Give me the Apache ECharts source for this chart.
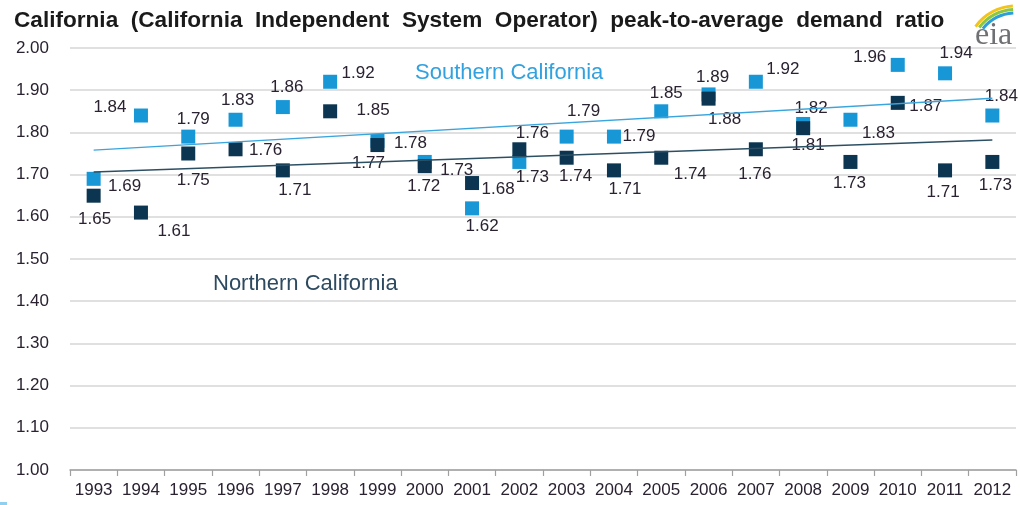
<!DOCTYPE html>
<html><head><meta charset="utf-8">
<script src="https://cdn.jsdelivr.net/npm/echarts@6/dist/echarts.min.js"></script>
<style>html,body{margin:0;padding:0;background:#fff}#c{width:1020px;height:505px}</style>
</head><body><div id="c"></div>
<script>
const years = ['1993','1994','1995','1996','1997','1998','1999','2000','2001','2002','2003','2004','2005','2006','2007','2008','2009','2010','2011','2012'];
const southern = [1.69,1.84,1.79,1.83,1.86,1.92,1.78,1.73,1.62,1.73,1.79,1.79,1.85,1.89,1.92,1.82,1.83,1.96,1.94,1.84];
const northern = [1.65,1.61,1.75,1.76,1.71,1.85,1.77,1.72,1.68,1.76,1.74,1.71,1.74,1.88,1.76,1.81,1.73,1.87,1.71,1.73];
// trend line end values (1993 and 2012)
const southernTrend = [1.758, 1.881];
const northernTrend = [1.706, 1.782];
const yMin = 1.0, yMax = 2.0, yStep = 0.1;

// label placement (offset of label centre from marker centre), presentation only
const southLabelOffset = [[31,7],[-31,-8],[5,-17],[2,-19],[4,-20],[28,-8],[33,2],[32,8],[10,18],[13,15],[17,-25],[25,0],[5,-18],[4,-17],[27,-12],[8,-16],[28,14],[-28,-8],[11,-20],[9,-19]];
const northLabelOffset = [[1,24],[33,19],[5,27],[30,1],[12,20],[43,-1],[-9,18],[-1,20],[26,6],[13,-16],[9,19],[11,19],[29,17],[16,21],[-1,25],[5,17],[-1,21],[28,3],[-2,22],[3,23]];

const FONT = 'Liberation Sans, Arial, sans-serif';
const LIGHT = '#1797d6';
const DARK = '#0b3550';
const TXT = '#2a2230';

function pts(vals, offs) {
  return vals.map((v, i) => ({
    value: v,
    label: { position: 'inside', offset: offs[i] }
  }));
}

const chart = echarts.init(document.getElementById('c'), null, {renderer: 'canvas'});
chart.setOption({
  animation: false,
  title: {
    text: 'California  (California  Independent  System  Operator)  peak-to-average  demand  ratio',
    left: 9, top: 4,
    textStyle: { fontFamily: FONT, fontSize: 22.6, fontWeight: 'bold', color: '#1a1a1a' }
  },
  grid: { left: 70, right: 4, top: 48, bottom: 35, containLabel: false },
  xAxis: {
    type: 'category', data: years, boundaryGap: true,
    axisLine: { lineStyle: { color: '#a0a0a0', width: 1.5 } },
    axisTick: { show: true, length: 6, lineStyle: { color: '#a0a0a0', width: 1.2 } },
    axisLabel: { fontFamily: FONT, fontSize: 17, color: TXT, margin: 12, interval: 0 },
    splitLine: { show: false }
  },
  yAxis: {
    type: 'value', min: yMin, max: yMax, interval: yStep,
    axisLine: { show: false }, axisTick: { show: false },
    axisLabel: { fontFamily: FONT, fontSize: 17, color: TXT, margin: 21, formatter: v => v.toFixed(2) },
    splitLine: { lineStyle: { color: '#d6d6d6', width: 1.5 } }
  },
  series: [
    {
      name: 'Southern California', type: 'scatter', symbol: 'rect', symbolSize: 14,
      itemStyle: { color: LIGHT, opacity: 1 },
      data: pts(southern, southLabelOffset),
      label: { show: true, fontFamily: FONT, fontSize: 17, color: TXT, formatter: p => p.value.toFixed(2) },
      markLine: {
        silent: true, symbol: 'none', label: { show: false },
        lineStyle: { color: '#3aa5dd', width: 1.5, type: 'solid' },
        data: [[{ coord: [years[0], southernTrend[0]] }, { coord: [years[years.length-1], southernTrend[1]] }]]
      },
      z: 2
    },
    {
      name: 'Northern California', type: 'scatter', symbol: 'rect', symbolSize: 14,
      itemStyle: { color: DARK, opacity: 1 },
      data: pts(northern, northLabelOffset),
      label: { show: true, fontFamily: FONT, fontSize: 17, color: TXT, formatter: p => p.value.toFixed(2) },
      markLine: {
        silent: true, symbol: 'none', label: { show: false },
        lineStyle: { color: '#2c4f64', width: 1.5, type: 'solid' },
        data: [[{ coord: [years[0], northernTrend[0]] }, { coord: [years[years.length-1], northernTrend[1]] }]]
      },
      z: 3
    }
  ],
  graphic: [
    { type: 'text', left: 415, top: 62, style: { text: 'Southern California', fontFamily: FONT, fontSize: 22, fill: '#31a2df' } },
    { type: 'text', left: 213, top: 273, style: { text: 'Northern California', fontFamily: FONT, fontSize: 22, fill: '#2d4a60' } },
    { type: 'text', left: 975, top: 20, style: { text: 'eia', fontFamily: 'Liberation Serif, DejaVu Serif, serif', fontSize: 32, fill: '#6f7073' } },
    { type: 'arc', shape: { cx: 1016, cy: 56, r: 50, startAngle: -Math.PI*0.80, endAngle: -Math.PI*0.52 }, style: { stroke: '#f2c31a', lineWidth: 3, fill: null } },
    { type: 'arc', shape: { cx: 1016, cy: 56, r: 46.5, startAngle: -Math.PI*0.79, endAngle: -Math.PI*0.52 }, style: { stroke: '#8dc63f', lineWidth: 3, fill: null } },
    { type: 'arc', shape: { cx: 1016, cy: 56, r: 43, startAngle: -Math.PI*0.78, endAngle: -Math.PI*0.52 }, style: { stroke: '#2a9fd8', lineWidth: 3, fill: null } },
    { type: 'rect', shape: { x: 0, y: 502, width: 7, height: 3 }, style: { fill: '#8fd0f0' } }
  ]
});
</script>
</body></html>
